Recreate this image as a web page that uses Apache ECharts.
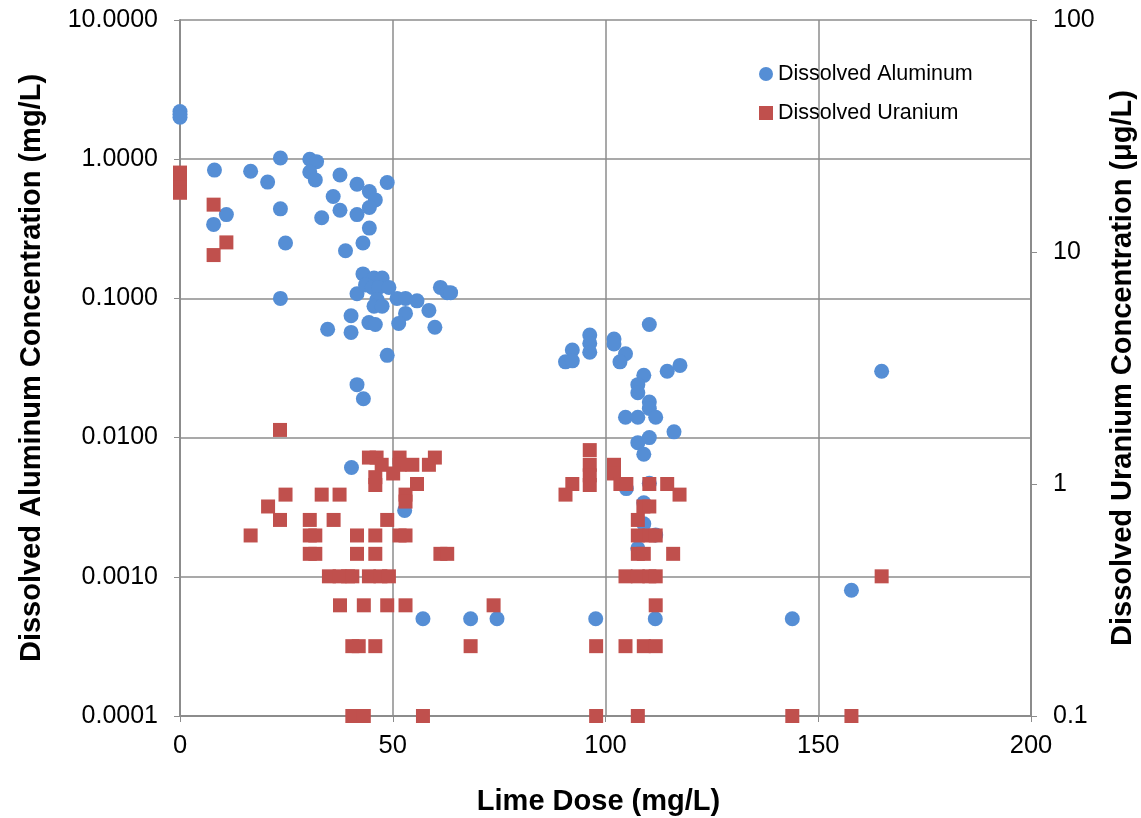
<!DOCTYPE html>
<html>
<head>
<meta charset="utf-8">
<script src="https://cdn.jsdelivr.net/npm/echarts@6/dist/echarts.min.js"></script>
<style>
  html, body { margin: 0; padding: 0; background: #fff; }
  #main { width: 1141px; height: 818px; }
</style>
</head>
<body>
<div id="main"></div>
<script>
// 溶解铝 (mg/L) 与石灰投加量
var alX = [0, 0, 0, 8.1, 7.9, 10.9, 16.6, 20.6, 23.6, 23.6, 24.8, 23.6,
  30.5, 32.1, 30.5, 31.8, 37.6, 41.6, 44.5, 45.9, 44.5, 48.7, 36.0, 37.6, 41.6, 33.3, 44.5,
  43.0, 38.9, 43.0, 45.6, 47.5, 41.6, 43.6, 45.2, 46.7, 49.1, 46.3, 45.6, 47.5,
  51.0, 53.0, 55.7, 53.0, 58.5, 61.2, 62.8, 63.6, 51.4, 59.9, 40.2, 44.4, 45.9, 34.7, 40.2,
  48.7, 41.6, 43.1, 40.3, 52.8, 57.1, 68.3, 74.5, 97.7, 111.7, 143.9, 157.8, 164.9,
  110.3, 96.3, 96.3, 96.3, 92.2, 90.6, 92.2, 102.0, 102.0, 104.7, 103.4,
  109.0, 107.6, 107.6, 114.5, 117.5, 110.3, 110.3, 111.8, 104.7, 107.6, 116.1,
  107.6, 110.3, 109.0, 104.9, 110.3, 109.0, 109.0, 111.8, 107.6];
var alY = [2.2, 2.1, 2.0, 0.835, 0.34, 0.40, 0.82, 0.685, 1.02, 0.44, 0.25, 0.10,
  1.0, 0.96, 0.81, 0.71, 0.77, 0.66, 0.585, 0.51, 0.45, 0.68, 0.54, 0.43, 0.40, 0.38, 0.32,
  0.25, 0.22, 0.15, 0.14, 0.14, 0.108, 0.125, 0.12, 0.12, 0.12, 0.098, 0.088, 0.088,
  0.10, 0.10, 0.096, 0.078, 0.082, 0.12, 0.11, 0.11, 0.066, 0.062, 0.075, 0.067, 0.065, 0.06, 0.057,
  0.039, 0.024, 0.019, 0.0061, 0.003, 0.0005, 0.0005, 0.0005, 0.0005, 0.0005, 0.0005, 0.0008, 0.030,
  0.065, 0.0546, 0.0475, 0.041, 0.0426, 0.035, 0.0356, 0.051, 0.047, 0.040, 0.035,
  0.028, 0.024, 0.021, 0.030, 0.033, 0.018, 0.0162, 0.014, 0.014, 0.014, 0.011,
  0.0092, 0.010, 0.0076, 0.0043, 0.0047, 0.0034, 0.0024, 0.002, 0.0016];

// 溶解铀 (μg/L) 与石灰投加量
var uX = [0, 0, 0, 0, 7.9, 10.9, 7.9, 23.5, 16.6, 20.7, 24.8, 23.5, 30.5, 33.3, 37.5, 36.1,
  30.5, 31.8, 30.5, 31.8, 41.6, 45.9, 41.6, 45.9, 35.0, 37.5, 39.5, 40.5, 44.4, 47.1, 49.1,
  37.6, 43.2, 48.7, 53.0, 73.7, 40.5, 42.0, 45.9, 68.3, 40.5, 43.2, 57.1,
  44.4, 46.2, 47.4, 45.9, 45.9, 51.6, 51.6, 54.6, 50.1, 58.5, 59.9, 55.7, 53.0, 53.0,
  48.7, 51.6, 53.0, 61.2, 62.8,
  96.3, 96.3, 96.3, 96.3, 92.2, 90.6, 102.0, 102.0, 103.5, 104.9, 110.3, 114.5, 117.4,
  108.9, 110.3, 107.6, 107.6, 110.3, 111.8, 107.6, 109.0, 115.9, 104.7, 107.6, 110.3, 111.8,
  111.8, 97.8, 104.7, 109.0, 111.8, 97.8, 107.6, 143.9, 157.8, 164.9];
var uY = [22, 20.5, 19, 18, 16.0, 11.0, 9.7, 1.71, 0.60, 0.80, 0.90, 0.70, 0.70, 0.90, 0.90, 0.70,
  0.60, 0.60, 0.50, 0.50, 0.60, 0.60, 0.50, 0.50, 0.40, 0.40, 0.40, 0.40, 0.40, 0.40, 0.40,
  0.30, 0.30, 0.30, 0.30, 0.30, 0.20, 0.20, 0.20, 0.20, 0.10, 0.10, 0.10,
  1.30, 1.30, 1.21, 1.07, 0.99, 1.30, 1.21, 1.21, 1.11, 1.21, 1.30, 1.0, 0.90, 0.84,
  0.70, 0.60, 0.60, 0.50, 0.50,
  1.40, 1.21, 1.09, 0.99, 1.0, 0.90, 1.21, 1.11, 1.0, 1.0, 1.0, 1.0, 0.90,
  0.80, 0.80, 0.70, 0.60, 0.60, 0.60, 0.50, 0.50, 0.50, 0.40, 0.40, 0.40, 0.40,
  0.30, 0.20, 0.20, 0.20, 0.20, 0.10, 0.10, 0.10, 0.10, 0.40];

var xTicks = [0, 50, 100, 150, 200];

function pairs(xs, ys) {
  return xs.map(function (x, i) { return [x, ys[i]]; });
}

var myChart = echarts.init(document.getElementById("main"));
var font = "Liberation Sans, Arial, sans-serif";
var gray = "#8c8c8c";

myChart.setOption({
  animation: false,
  textStyle: { fontFamily: font },
  grid: { left: 180, right: 110, top: 20, bottom: 102, outerBoundsMode: "none", containLabel: false },
  legend: {
    orient: "vertical",
    left: 754,
    top: 58,
    itemWidth: 14,
    itemHeight: 14,
    itemGap: 17,
    textStyle: { fontSize: 21.5, color: "#000", fontFamily: font },
    data: [
      { name: "Dissolved Aluminum", icon: "circle" },
      { name: "Dissolved Uranium", icon: "rect" }
    ]
  },
  xAxis: {
    type: "value",
    min: xTicks[0],
    max: xTicks[xTicks.length - 1],
    interval: 50,
    name: "Lime Dose (mg/L)",
    nameLocation: "middle",
    nameGap: 71,
    nameTextStyle: { fontSize: 29, fontWeight: "bold", color: "#000", padding: [0, 14, 0, 0] },
    axisLine: { lineStyle: { color: gray, width: 2 } },
    axisTick: { show: true, length: 6, lineStyle: { color: gray } },
    axisLabel: { fontSize: 25.5, color: "#000", margin: 17 },
    splitLine: { show: true, lineStyle: { color: gray, width: 1.5 } }
  },
  yAxis: [
    {
      type: "log",
      logBase: 10,
      min: 0.0001,
      max: 10,
      name: "Dissolved Aluminum Concentration (mg/L)",
      nameLocation: "middle",
      nameGap: 134,
      nameTextStyle: { fontSize: 29, fontWeight: "bold", color: "#000" },
      axisLine: { show: true, lineStyle: { color: gray, width: 2 } },
      axisTick: { show: true, length: 6, lineStyle: { color: gray } },
      axisLabel: {
        fontSize: 25,
        color: "#000",
        margin: 22,
        formatter: function (v) { return (+v).toFixed(4); }
      },
      splitLine: { show: true, lineStyle: { color: gray, width: 1.5 } }
    },
    {
      type: "log",
      logBase: 10,
      min: 0.1,
      max: 100,
      position: "right",
      name: "Dissolved Uranium Concentration (μg/L)",
      nameLocation: "middle",
      nameGap: 77,
      nameTextStyle: { fontSize: 29, fontWeight: "bold", color: "#000" },
      axisLine: { show: true, lineStyle: { color: gray, width: 2 } },
      axisTick: { show: true, length: 6, lineStyle: { color: gray } },
      axisLabel: {
        fontSize: 25,
        color: "#000",
        margin: 22,
        formatter: function (v) { return v >= 1 ? (+v).toFixed(0) : (+v).toFixed(1); }
      },
      splitLine: { show: false }
    }
  ],
  series: [
    {
      name: "Dissolved Aluminum",
      type: "scatter",
      symbol: "circle",
      symbolSize: 15,
      yAxisIndex: 0,
      itemStyle: { color: "#558ED5", opacity: 1 },
      data: pairs(alX, alY)
    },
    {
      name: "Dissolved Uranium",
      type: "scatter",
      symbol: "rect",
      symbolSize: 14,
      yAxisIndex: 1,
      itemStyle: { color: "#C0504D", opacity: 1 },
      data: pairs(uX, uY)
    }
  ]
});
</script>
</body>
</html>
